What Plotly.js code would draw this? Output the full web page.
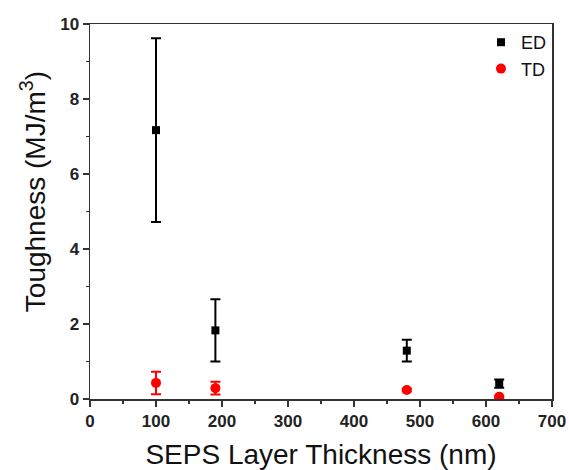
<!DOCTYPE html>
<html>
<head>
<meta charset="utf-8">
<script src="https://cdn.plot.ly/plotly-3.0.1.min.js"></script>
<style>html,body{margin:0;padding:0;background:#fff;}#chart{width:569px;height:470px;}</style>
</head>
<body>
<div id="chart"></div>
<script>
const thickness = [100, 190, 480, 620];
const edToughness = [7.17, 1.83, 1.29, 0.41];
const edError = [2.45, 0.83, 0.29, 0.11];
const tdToughness = [0.43, 0.29, 0.24, 0.06];
const tdError = [0.30, 0.17, 0.04, 0.03];
const xTickVals = [0, 100, 200, 300, 400, 500, 600, 700];
const xTickText = ['0', '100', '200', '300', '400', '500', '600', '700'];
const yTickVals = [0, 2, 4, 6, 8, 10];
const yTickText = ['0', '2', '4', '6', '8', '10'];

const traces = [
  {
    x: thickness, y: edToughness, name: 'ED', type: 'scatter', mode: 'markers',
    marker: {symbol: 'square', size: 8, color: '#000000'},
    error_y: {type: 'data', array: edError, visible: true, color: '#000000', thickness: 2, width: 5}
  },
  {
    x: thickness, y: tdToughness, name: 'TD', type: 'scatter', mode: 'markers',
    marker: {symbol: 'circle', size: 10, color: '#ff0000'},
    error_y: {type: 'data', array: tdError, visible: true, color: '#ff0000', thickness: 2, width: 5}
  }
];

const bold = s => '<b>' + s + '</b>';

const layout = {
  width: 569, height: 470,
  margin: {l: 90, r: 17, t: 24, b: 71},
  paper_bgcolor: '#ffffff', plot_bgcolor: '#ffffff',
  font: {family: 'Arial, Liberation Sans, sans-serif', color: '#000'},
  showlegend: true,
  legend: {x: 1, xanchor: 'right', y: 1, yanchor: 'top', bgcolor: 'rgba(0,0,0,0)',
           font: {size: 18, family: 'Arial, Liberation Sans, sans-serif', color: '#111'}, itemwidth: 30, tracegroupgap: 0},
  xaxis: {
    range: [0, 700], tickmode: 'array', tickvals: xTickVals, ticktext: xTickText.map(bold),
    ticks: 'outside', ticklen: 6, tickwidth: 1.5, tickcolor: '#333',
    showline: true, linecolor: '#333', linewidth: 1.5, mirror: true, showgrid: false, zeroline: false,
    tickfont: {size: 17, family: 'Arial, Liberation Sans, sans-serif', color: '#222'},
    minor: {dtick: 50, tick0: 0, ticks: 'outside', ticklen: 3, tickcolor: '#333', showgrid: false},
    title: {text: 'SEPS Layer Thickness (nm)', font: {size: 28, color: '#111'}, standoff: 14}
  },
  yaxis: {
    range: [0, 10], tickmode: 'array', tickvals: yTickVals, ticktext: yTickText.map(bold),
    ticks: 'outside', ticklen: 6, tickwidth: 1.5, tickcolor: '#333',
    showline: true, linecolor: '#333', linewidth: 1.5, mirror: true, showgrid: false, zeroline: false,
    tickfont: {size: 17, family: 'Arial, Liberation Sans, sans-serif', color: '#222'},
    minor: {dtick: 1, tick0: 0, ticks: 'outside', ticklen: 3, tickcolor: '#333', showgrid: false}
  },
  annotations: [{
    text: 'Toughness (MJ/m<sup>3</sup>)', xref: 'paper', yref: 'paper',
    x: -0.123, y: 0.552, xanchor: 'center', yanchor: 'middle', textangle: -90,
    showarrow: false, font: {size: 28, color: '#111', family: 'Arial, Liberation Sans, sans-serif'}
  }]
};

Plotly.newPlot('chart', traces, layout, {displayModeBar: false, staticPlot: true});
</script>
</body>
</html>
